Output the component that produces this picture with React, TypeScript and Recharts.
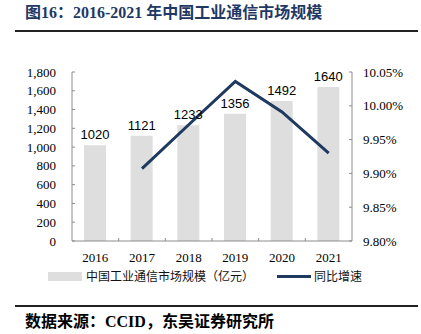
import React from 'react';
import { ComposedChart, Bar, Line, XAxis, YAxis, LabelList, Legend } from 'recharts';

const years = ['2016', '2017', '2018', '2019', '2020', '2021'];
const marketSize = [1020, 1121, 1233, 1356, 1492, 1640];
const growth: (number | null)[] = [null, 9.907, 9.972, 10.036, 9.991, 9.93];
const leftTicks = [0, 200, 400, 600, 800, 1000, 1200, 1400, 1600, 1800];
const rightTicks = [9.8, 9.85, 9.9, 9.95, 10.0, 10.05];

const barName = '中国工业通信市场规模（亿元）';
const lineName = '同比增速';
const titleText = '图16：2016-2021 年中国工业通信市场规模';
const sourceText = '数据来源：CCID，东吴证券研究所';

const data = years.map((y, i) => ({ year: y, size: marketSize[i], growth: growth[i] }));

const W = 421;
const H = 334;
const PLOT_LEFT = 72;
const PLOT_RIGHT = 352;
const PLOT_TOP = 72;
const PLOT_BOTTOM = 241;
const BAND = (PLOT_RIGHT - PLOT_LEFT) / years.length;

const NAVY = '#1f3a5f';
const AXIS = '#8c8c8c';
const SERIF = "'Liberation Serif', 'Times New Roman', serif";
const CJK = "'Noto Sans CJK SC', sans-serif";

const XTick = (props: any) => {
  const { x, y, payload, index } = props;
  const last = index === years.length - 1;
  return (
    <g>
      {!last && (
        <line x1={x + BAND / 2} x2={x + BAND / 2} y1={y} y2={y - 3} stroke={AXIS} strokeWidth={1} />
      )}
      <text x={x} y={y + 20.5} textAnchor="middle" fontFamily={SERIF} fontSize={13} fill="#000">
        {payload.value}
      </text>
    </g>
  );
};

const LeftTick = (props: any) => {
  const { x, y, payload } = props;
  return (
    <g>
      <line x1={x} x2={x + 3} y1={y} y2={y} stroke={AXIS} strokeWidth={1} />
      <text x={x - 16} y={y + 4.5} textAnchor="end" fontFamily={SERIF} fontSize={13} fill="#000">
        {payload.value.toLocaleString('en-US')}
      </text>
    </g>
  );
};

const RightTick = (props: any) => {
  const { x, y, payload } = props;
  return (
    <g>
      <line x1={x} x2={x - 3} y1={y} y2={y} stroke={AXIS} strokeWidth={1} />
      <text x={x + 11} y={y + 4.5} textAnchor="start" fontFamily={SERIF} fontSize={13} fill="#000">
        {Number(payload.value).toFixed(2) + '%'}
      </text>
    </g>
  );
};

const LegendContent = () => (
  <div style={{ position: 'relative', width: W, height: 14, fontFamily: CJK, fontSize: 12, color: '#111' }}>
    <div style={{ position: 'absolute', left: 48, top: 2, width: 34, height: 9, background: '#dedede' }} />
    <div style={{ position: 'absolute', left: 86, top: -2, whiteSpace: 'nowrap', lineHeight: '16px' }}>{barName}</div>
    <div style={{ position: 'absolute', left: 277, top: 5, width: 34, height: 3, background: NAVY }} />
    <div style={{ position: 'absolute', left: 314, top: -2, whiteSpace: 'nowrap', lineHeight: '16px' }}>{lineName}</div>
  </div>
);

export default function App() {
  return (
    <div style={{ position: 'absolute', left: 0, top: 0, width: W, height: H, background: '#fff', overflow: 'hidden' }}>
      <div
        style={{
          position: 'absolute',
          left: 25,
          top: 2,
          fontFamily: `${SERIF.split(',')[0]}, ${CJK}`,
          fontWeight: 'bold',
          fontSize: 16,
          lineHeight: '22px',
          color: '#1f3864',
          whiteSpace: 'nowrap',
        }}
      >
        {titleText}
      </div>
      <div style={{ position: 'absolute', left: 15, top: 30, width: 403, height: 2, background: '#222' }} />
      <div style={{ position: 'absolute', left: 0, top: 0 }}>
        <ComposedChart
          width={W}
          height={H}
          data={data}
          margin={{ top: PLOT_TOP, right: 0, left: 0, bottom: H - PLOT_BOTTOM - 30 }}
          barCategoryGap={0}
        >
          <XAxis
            dataKey="year"
            height={30}
            axisLine={{ stroke: AXIS }}
            tickLine={false}
            tickSize={0}
            tickMargin={0}
            tick={<XTick />}
            interval={0}
          />
          <YAxis
            yAxisId="left"
            orientation="left"
            width={PLOT_LEFT}
            domain={[0, 1800]}
            ticks={leftTicks}
            axisLine={{ stroke: AXIS }}
            tickLine={false}
            tickSize={0}
            tickMargin={0}
            tick={<LeftTick />}
            interval={0}
          />
          <YAxis
            yAxisId="right"
            orientation="right"
            width={W - PLOT_RIGHT}
            domain={[9.8, 10.05]}
            ticks={rightTicks}
            axisLine={{ stroke: AXIS }}
            tickLine={false}
            tickSize={0}
            tickMargin={0}
            tick={<RightTick />}
            interval={0}
          />
          <Legend
            layout="horizontal"
            verticalAlign="middle"
            align="center"
            wrapperStyle={{ position: 'absolute', left: 0, top: 270, width: W, height: 14 }}
            content={<LegendContent />}
          />
          <Bar yAxisId="left" dataKey="size" name={barName} fill="#dedede" barSize={22} isAnimationActive={false}>
            <LabelList dataKey="size" position="top" offset={6} fontFamily="'Liberation Sans', Arial, sans-serif" fontSize={13} fill="#000" />
          </Bar>
          <Line
            yAxisId="right"
            dataKey="growth"
            name={lineName}
            stroke={NAVY}
            strokeWidth={3}
            dot={false}
            activeDot={false}
            isAnimationActive={false}
          />
        </ComposedChart>
      </div>
      <div style={{ position: 'absolute', left: 15, top: 305, width: 403, height: 2, background: '#222' }} />
      <div
        style={{
          position: 'absolute',
          left: 25,
          top: 311,
          fontFamily: `${SERIF.split(',')[0]}, ${CJK}`,
          fontWeight: 'bold',
          fontSize: 16,
          lineHeight: '21px',
          color: '#000',
          whiteSpace: 'nowrap',
        }}
      >
        {sourceText}
      </div>
    </div>
  );
}
